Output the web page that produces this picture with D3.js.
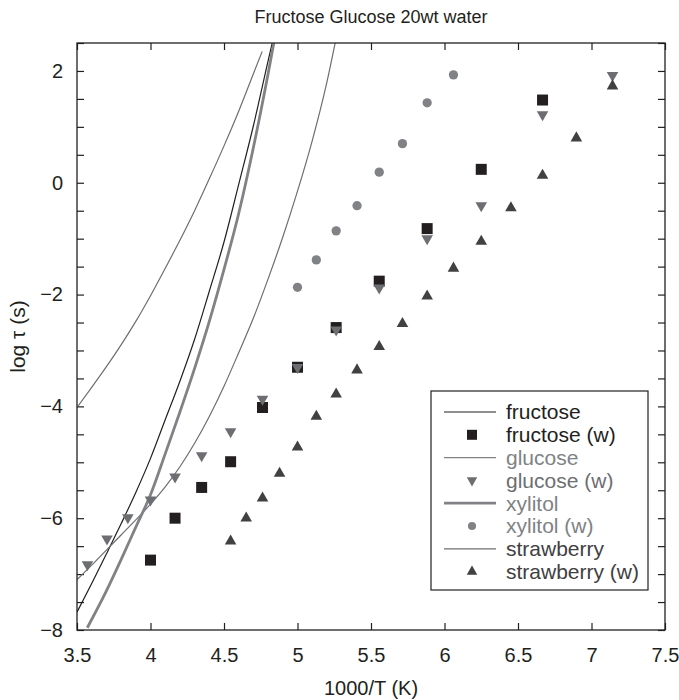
<!DOCTYPE html>
<html><head><meta charset="utf-8">
<script src="https://cdn.jsdelivr.net/npm/d3@7"></script>
<style>
body{margin:0;background:#fff}
text{font-family:"Liberation Sans",Arial,Helvetica,sans-serif}
</style>
</head><body>
<svg id="chart" width="679" height="700"></svg>
<script>
// ---------- data ----------
const titleText = "Fructose Glucose 20wt water";
const xLabel = "1000/T (K)";
const yLabel = "log \u03C4 (s)";
const xTicks = [3.5, 4, 4.5, 5, 5.5, 6, 6.5, 7, 7.5];
const yTicks = [-8, -7.5, -7, -6.5, -6, -5.5, -5, -4.5, -4, -3.5, -3, -2.5, -2, -1.5, -1, -0.5, 0, 0.5, 1, 1.5, 2, 2.5];
const yLabelled = [-8, -6, -4, -2, 0, 2];

// measured points (w)
const fructoseWX = [4.0, 4.167, 4.348, 4.545, 4.762, 5.0, 5.263, 5.556, 5.882, 6.25, 6.667];
const fructoseWY = [-6.75, -6.0, -5.45, -4.99, -4.02, -3.3, -2.59, -1.76, -0.82, 0.24, 1.48];
const glucoseWX = [3.571, 3.704, 3.846, 4.0, 4.167, 4.348, 4.545, 4.762, 5.0, 5.263, 5.556, 5.882, 6.25, 6.667, 7.143];
const glucoseWY = [-6.83, -6.37, -5.99, -5.67, -5.26, -4.88, -4.45, -3.87, -3.3, -2.63, -1.88, -1.0, -0.41, 1.22, 1.92];
const xylitolWX = [5.0, 5.128, 5.263, 5.405, 5.556, 5.714, 5.882, 6.061];
const xylitolWY = [-1.87, -1.38, -0.86, -0.41, 0.19, 0.7, 1.43, 1.93];
const strawberryWX = [4.545, 4.651, 4.762, 4.878, 5.0, 5.128, 5.263, 5.405, 5.556, 5.714, 5.882, 6.061, 6.25, 6.452, 6.667, 6.897, 7.143];
const strawberryWY = [-6.41, -6.0, -5.64, -5.2, -4.73, -4.18, -3.78, -3.35, -2.93, -2.52, -2.03, -1.53, -1.05, -0.45, 0.13, 0.8, 1.73];

// fitted curves
const fructoseLX = [3.5, 3.6, 3.7, 3.8, 3.9, 4.0, 4.1, 4.2, 4.3, 4.4, 4.5, 4.6, 4.7, 4.8, 4.85];
const fructoseLY = [-7.68, -7.17, -6.64, -6.1, -5.54, -4.93, -4.24, -3.55, -2.8, -1.94, -1.06, -0.03, 1.02, 2.18, 2.75];
const glucoseLX = [3.5, 3.6, 3.7, 3.8, 3.9, 4.0, 4.1, 4.2, 4.3, 4.4, 4.5, 4.6, 4.7, 4.76];
const glucoseLY = [-4.02, -3.66, -3.29, -2.9, -2.48, -2.02, -1.53, -1.03, -0.5, 0.07, 0.66, 1.28, 1.95, 2.35];
const xylitolLX = [3.57, 3.7, 3.8, 3.9, 4.0, 4.1, 4.2, 4.3, 4.4, 4.5, 4.6, 4.7, 4.8, 4.86];
const xylitolLY = [-7.96, -7.3, -6.74, -6.16, -5.58, -4.85, -4.1, -3.32, -2.48, -1.55, -0.55, 0.63, 1.95, 2.8];
const strawberryLX = [3.5, 3.6, 3.7, 3.8, 3.9, 4.0, 4.1, 4.2, 4.3, 4.4, 4.5, 4.6, 4.7, 4.8, 4.9, 5.0, 5.1, 5.2, 5.26];
const strawberryLY = [-7.1, -6.84, -6.57, -6.3, -6.03, -5.75, -5.44, -5.08, -4.66, -4.18, -3.64, -3.04, -2.42, -1.72, -0.97, -0.15, 0.75, 1.8, 2.55];

const legendLabels = ["fructose", "fructose (w)", "glucose", "glucose (w)", "xylitol", "xylitol (w)", "strawberry", "strawberry (w)"];

// ---------- chart ----------
const W = 679, H = 700;
const m = {l: 77, r: 14, t: 43, b: 70};
const svg = d3.select("#chart");
const x = d3.scaleLinear().domain([3.5, 7.5]).range([m.l, W - m.r]);
const y = d3.scaleLinear().domain([-8, 2.5]).range([H - m.b, m.t]);

const C = {black: "#231f20", dark: "#414042", mid: "#6d6e71", light: "#808285"};
const fmt = d => (d < 0 ? "\u2212" : "") + Math.abs(d);

svg.append("defs").append("clipPath").attr("id", "clip")
  .append("rect").attr("x", m.l).attr("y", m.t).attr("width", x(7.5) - x(3.5)).attr("height", y(-8) - y(2.5));

// axes
const gB = svg.append("g").attr("transform", `translate(0,${y(-8)})`)
  .call(d3.axisBottom(x).tickValues(xTicks).tickFormat(d => String(d)).tickSizeInner(-7).tickSizeOuter(0).tickPadding(18));
const gT = svg.append("g").attr("transform", `translate(0,${y(2.5)})`)
  .call(d3.axisTop(x).tickValues(xTicks).tickFormat("").tickSizeInner(-7).tickSizeOuter(0));
const gL = svg.append("g").attr("transform", `translate(${x(3.5)},0)`)
  .call(d3.axisLeft(y).tickValues(yTicks).tickFormat(d => yLabelled.includes(d) ? fmt(d) : "").tickSizeInner(-7).tickSizeOuter(0).tickPadding(14));
const gR = svg.append("g").attr("transform", `translate(${x(7.5)},0)`)
  .call(d3.axisRight(y).tickValues(yTicks).tickFormat("").tickSizeInner(-7).tickSizeOuter(0));
[gB, gT, gL, gR].forEach(g => {
  g.select(".domain").remove();
  g.selectAll(".tick line").attr("stroke", C.black).attr("stroke-width", 1.2);
  g.selectAll(".tick text").attr("fill", C.black).style("font-size", "20px").style("font-family", '"Liberation Sans",Arial,sans-serif');
});

// curves
const line = d3.line().x(d => x(d[0])).y(d => y(d[1])).curve(d3.curveMonotoneX);
const curves = [
  {xs: fructoseLX, ys: fructoseLY, c: C.black, w: 1.2},
  {xs: glucoseLX, ys: glucoseLY, c: C.mid, w: 1.2},
  {xs: strawberryLX, ys: strawberryLY, c: C.mid, w: 1.2},
  {xs: xylitolLX, ys: xylitolLY, c: C.light, w: 2.8}
];
const gC = svg.append("g").attr("clip-path", "url(#clip)");
curves.forEach(cv => {
  gC.append("path").datum(cv.xs.map((v, i) => [v, cv.ys[i]]))
    .attr("d", line).attr("fill", "none").attr("stroke", cv.c).attr("stroke-width", cv.w);
});

// markers
const sym = {
  square: d3.symbol().type(d3.symbolSquare).size(121)(),
  down: d3.symbol().type(d3.symbolTriangle).size(58)(),
  up: d3.symbol().type(d3.symbolTriangle).size(58)(),
  circle: d3.symbol().type(d3.symbolCircle).size(68)()
};
const series = [
  {xs: fructoseWX, ys: fructoseWY, s: "square", c: C.black, rot: 0},
  {xs: glucoseWX, ys: glucoseWY, s: "down", c: C.mid, rot: 180},
  {xs: xylitolWX, ys: xylitolWY, s: "circle", c: C.light, rot: 0},
  {xs: strawberryWX, ys: strawberryWY, s: "up", c: C.dark, rot: 0}
];
series.forEach(se => {
  svg.append("g").selectAll("path").data(se.xs.map((v, i) => [v, se.ys[i]])).join("path")
    .attr("d", sym[se.s])
    .attr("transform", d => `translate(${x(d[0])},${y(d[1])}) rotate(${se.rot})`)
    .attr("fill", se.c);
});

// frame
svg.append("rect").attr("x", x(3.5)).attr("y", y(2.5)).attr("width", x(7.5) - x(3.5)).attr("height", y(-8) - y(2.5))
  .attr("fill", "none").attr("stroke", C.black).attr("stroke-width", 1.3);

// titles
svg.append("text").attr("x", (x(3.5) + x(7.5)) / 2).attr("y", 23).attr("text-anchor", "middle")
  .style("font-size", "18px").attr("fill", C.black).text(titleText);
svg.append("text").attr("x", (x(3.5) + x(7.5)) / 2).attr("y", 695).attr("text-anchor", "middle")
  .style("font-size", "20px").attr("fill", C.black).text(xLabel);
svg.append("text").attr("transform", `translate(25,${(y(2.5) + y(-8)) / 2}) rotate(-90)`).attr("text-anchor", "middle")
  .style("font-size", "21px").attr("fill", C.black).text(yLabel);

// legend
const lg = svg.append("g");
lg.append("rect").attr("x", 431).attr("y", 391).attr("width", 217).attr("height", 199)
  .attr("fill", "#fff").attr("stroke", C.black).attr("stroke-width", 1.2);
const legendItems = [
  {type: "line", c: C.black, w: 1.2, tc: C.black},
  {type: "square", c: C.black, tc: C.black},
  {type: "line", c: C.light, w: 1.2, tc: C.light},
  {type: "down", c: C.mid, tc: C.mid},
  {type: "line", c: C.light, w: 2.8, tc: C.light},
  {type: "circle", c: C.light, tc: C.light},
  {type: "line", c: C.mid, w: 1.2, tc: C.dark},
  {type: "up", c: C.dark, tc: C.dark}
];
legendItems.forEach((it, i) => {
  const cy = 412 + i * 22.8;
  if (it.type === "line") {
    lg.append("line").attr("x1", 444).attr("x2", 496).attr("y1", cy).attr("y2", cy)
      .attr("stroke", it.c).attr("stroke-width", it.w);
  } else {
    const sz = it.type === "square" ? 100 : it.type === "circle" ? 52 : 48;
    lg.append("path").attr("d", d3.symbol().type(it.type === "square" ? d3.symbolSquare : it.type === "circle" ? d3.symbolCircle : d3.symbolTriangle).size(sz)())
      .attr("transform", `translate(472,${cy}) rotate(${it.type === "down" ? 180 : 0})`).attr("fill", it.c);
  }
  lg.append("text").attr("x", 506).attr("y", cy).attr("dy", "0.35em").style("font-size", "21px")
    .attr("fill", it.tc).text(legendLabels[i]);
});
</script>
</body></html>
